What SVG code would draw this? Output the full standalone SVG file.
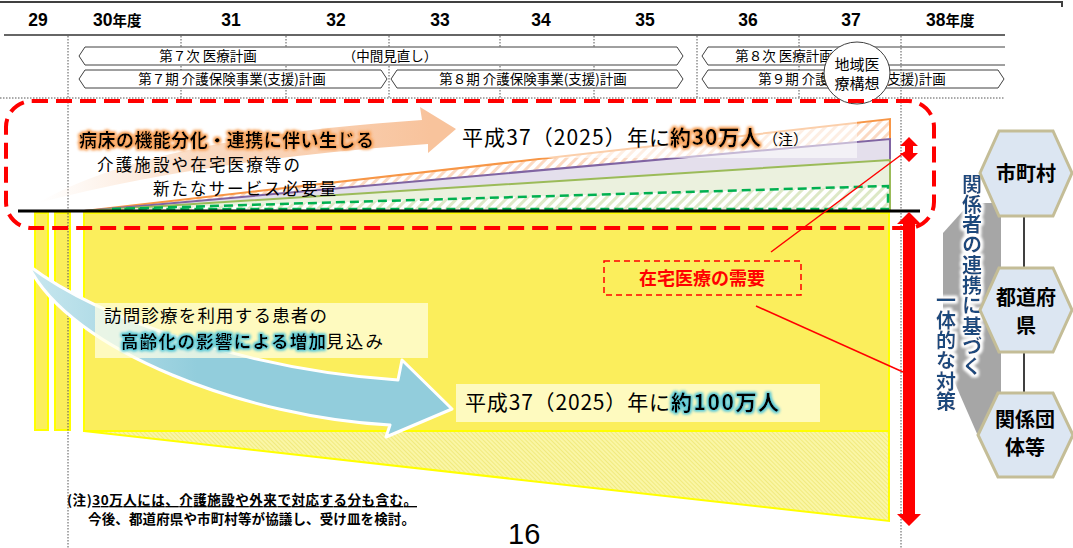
<svg xmlns="http://www.w3.org/2000/svg" width="1073" height="548" viewBox="0 0 1073 548">
<defs>
<style>
.yr{font-family:"Liberation Sans",Arial,sans-serif;font-weight:bold;font-size:17.5px;fill:#000}
.yrk{font-family:"Noto Sans CJK JP",sans-serif;font-size:14.5px;font-weight:bold}
.plan{fill:#fff;stroke:#404040;stroke-width:1}
.pt{font-family:"Noto Sans CJK JP",sans-serif;font-size:13.5px;fill:#000;text-anchor:middle}
.jp{font-family:"Noto Sans CJK JP",sans-serif;fill:#000}
.dot{stroke:#555;stroke-width:1;stroke-dasharray:1.5 1.5;fill:none}
.hex{fill:#DCE6F2;stroke:#C4BD97;stroke-width:3}
.ht{font-family:"Noto Sans CJK JP",sans-serif;font-weight:bold;font-size:20px;fill:#000;text-anchor:middle}
.vt{font-family:"Noto Sans CJK JP",sans-serif;font-weight:bold;font-size:20px;fill:#1F497D;writing-mode:vertical-rl}
.box{fill:#FFFFE6;opacity:0.72}
.ybar{fill:#FBEE5C;stroke:#FFFF00;stroke-width:2}
</style>
<pattern id="hO" width="7" height="7" patternUnits="userSpaceOnUse" patternTransform="rotate(45)">
<rect width="7" height="7" fill="#fff"/><rect width="3" height="7" fill="#FBD9C2"/>
</pattern>
<pattern id="hG" width="7" height="7" patternUnits="userSpaceOnUse" patternTransform="rotate(45)">
<rect width="7" height="7" fill="#fff"/><rect width="3" height="7" fill="#DDE8C6"/>
</pattern>
<pattern id="hY" width="3" height="3" patternUnits="userSpaceOnUse" patternTransform="rotate(-45)">
<rect width="3" height="3" fill="#FAF6A6"/><rect width="1" height="3" fill="#F1EA7E"/>
</pattern>
<linearGradient id="gOr" x1="38" y1="0" x2="430" y2="0" gradientUnits="userSpaceOnUse">
<stop offset="0" stop-color="#FCE3D0" stop-opacity="0"/>
<stop offset="0.4" stop-color="#F9D2B4" stop-opacity="0.8"/>
<stop offset="1" stop-color="#F8C39C"/>
</linearGradient>
<linearGradient id="gBl" x1="28" y1="0" x2="450" y2="0" gradientUnits="userSpaceOnUse">
<stop offset="0" stop-color="#C8E7EF"/>
<stop offset="0.4" stop-color="#92CDDC"/>
<stop offset="1" stop-color="#92CDDC"/>
</linearGradient>
<filter id="gO" x="-5%" y="-40%" width="110%" height="180%">
<feMorphology in="SourceAlpha" operator="dilate" radius="1.2" result="d"/>
<feGaussianBlur in="d" stdDeviation="1.8" result="b"/>
<feFlood flood-color="#F8A35C"/>
<feComposite in2="b" operator="in" result="g"/>
<feMerge><feMergeNode in="g"/><feMergeNode in="g"/><feMergeNode in="SourceGraphic"/></feMerge>
</filter>
<filter id="gC" x="-5%" y="-40%" width="110%" height="180%">
<feMorphology in="SourceAlpha" operator="dilate" radius="1.2" result="d"/>
<feGaussianBlur in="d" stdDeviation="1.8" result="b"/>
<feFlood flood-color="#5FCAD8"/>
<feComposite in2="b" operator="in" result="g"/>
<feMerge><feMergeNode in="g"/><feMergeNode in="g"/><feMergeNode in="SourceGraphic"/></feMerge>
</filter>
<filter id="gW" x="-40%" y="-5%" width="180%" height="110%">
<feMorphology in="SourceAlpha" operator="dilate" radius="2" result="d"/>
<feGaussianBlur in="d" stdDeviation="1.5" result="b"/>
<feFlood flood-color="#FFFFFF"/>
<feComposite in2="b" operator="in" result="g"/>
<feMerge><feMergeNode in="g"/><feMergeNode in="g"/><feMergeNode in="SourceGraphic"/></feMerge>
</filter>
</defs>

<g id="timeline">
<polyline points="0,2 1062,2 1062,7" fill="none" stroke="#404040" stroke-width="2"/>
<text class="yr" x="38" y="26" text-anchor="middle">29</text>
<text class="yr" x="93" y="26">30<tspan class="yrk">年度</tspan></text>
<text class="yr" x="231" y="26" text-anchor="middle">31</text>
<text class="yr" x="336" y="26" text-anchor="middle">32</text>
<text class="yr" x="440" y="26" text-anchor="middle">33</text>
<text class="yr" x="541" y="26" text-anchor="middle">34</text>
<text class="yr" x="645" y="26" text-anchor="middle">35</text>
<text class="yr" x="748" y="26" text-anchor="middle">36</text>
<text class="yr" x="851" y="26" text-anchor="middle">37</text>
<text class="yr" x="926" y="26">38<tspan class="yrk">年度</tspan></text>
<line x1="4" y1="35" x2="1005" y2="35" stroke="#333" stroke-width="1.5"/>
<path class="dot" d="M181,36V98 M286,36V98 M389,36V98 M500,36V98 M594,36V98 M697,36V98 M799,36V98 M0,98H1005"/>
</g>

<g id="plans">
<polygon class="plan" points="79,56 85,47 677,47 683,56 677,65 85,65"/>
<polygon class="plan" points="79,79 85,70 381,70 387,79 381,88 85,88"/>
<polygon class="plan" points="391,79 397,70 677,70 683,79 677,88 397,88"/>
<path class="plan" d="M1005,47 H708 L702,56 L708,65 H1005"/>
<polygon class="plan" points="702,79 708,70 998,70 1004,79 998,88 708,88"/>
<text class="pt" x="208" y="61">第７次 医療計画</text>
<text class="pt" x="390" y="61">（中間見直し）</text>
<text class="pt" x="232" y="84">第７期 介護保険事業(支援)計画</text>
<text class="pt" x="533" y="84">第８期 介護保険事業(支援)計画</text>
<text class="pt" x="784" y="61">第８次 医療計画</text>
<text class="pt" x="852" y="84">第９期 介護保険事業(支援)計画</text>
</g>

<g id="node-chiiki">
<ellipse cx="857" cy="73" rx="33" ry="31" fill="#fff" stroke="#404040" stroke-width="1"/>
<text class="jp" x="857" y="70" font-size="15" text-anchor="middle">地域医</text>
<text class="jp" x="857" y="89" font-size="15" text-anchor="middle">療構想</text>
</g>

<g id="demand-area">
<rect class="ybar" x="35" y="213" width="13" height="217"/>
<rect class="ybar" x="55" y="213" width="15" height="217"/>
<rect class="ybar" x="84" y="213" width="805" height="218"/>
<polygon points="84,431 889,431 889,521" fill="url(#hY)" stroke="#FFFF00" stroke-width="2"/>
</g>

<path class="dot" d="M68,36V548 M901,36V548"/>

<g id="growth">
<polygon points="84,211 890,119 890,211" fill="url(#hO)" stroke="#F79646" stroke-width="2"/>
<polygon points="84,211 890,139 890,211" fill="#E4DFEC" stroke="#8064A2" stroke-width="2"/>
<polygon points="84,211 890,160 890,211" fill="#EBF1DE" stroke="#9BBB59" stroke-width="2"/>
<polygon points="112,209 888,186 888,209" fill="url(#hG)" stroke="#00B050" stroke-width="2.5" stroke-dasharray="9 5"/>
<rect x="455" y="117" width="402" height="41" fill="#fff" opacity="0.55"/>
</g>

<g id="arrow-orange">
<path d="M38,203 Q150,138 422,120 L420,107 L456,129 L428,153 L428,144 Q200,160 38,203 Z" fill="url(#gOr)"/>
</g>

<g id="arrow-blue">
<path d="M28,265 C100,320 250,370 398,380 L402,360 L452,409 L386,437 L390,425 C250,418 70,352 28,265 Z" fill="url(#gBl)" stroke="#fff" stroke-width="3" stroke-linejoin="round"/>
</g>

<g id="label-30">
<text class="jp" x="79" y="147" font-size="18" font-weight="bold" textLength="295" filter="url(#gO)">病床の機能分化・連携に伴い生じる</text>
<text class="jp" x="97" y="171" font-size="16.5" textLength="203">介護施設や在宅医療等の</text>
<text class="jp" x="153" y="195" font-size="16.5" textLength="183">新たなサービス必要量</text>
<text class="jp" x="462" y="145" font-size="21" textLength="208">平成37（2025）年に</text>
<text class="jp" x="670" y="145" font-size="21" font-weight="bold" textLength="91" filter="url(#gO)">約30万人</text>
<text class="jp" x="763" y="145" font-size="15" textLength="45">（注）</text>
</g>

<g id="label-100">
<rect class="box" x="95" y="303" width="333" height="55"/>
<text class="jp" x="104" y="322" font-size="17.5" textLength="223">訪問診療を利用する患者の</text>
<text class="jp" x="121" y="348" font-size="17.5" font-weight="bold" textLength="205" filter="url(#gC)">高齢化の影響による増加</text>
<text class="jp" x="326" y="348" font-size="17.5" textLength="57">見込み</text>
<rect class="box" x="456" y="384" width="364" height="38"/>
<text class="jp" x="465" y="410" font-size="21" textLength="205">平成37（2025）年に</text>
<text class="jp" x="671" y="410" font-size="21" font-weight="bold" textLength="108" filter="url(#gC)">約100万人</text>
</g>

<g id="frame-new">
<rect x="6" y="101" width="928" height="127" rx="26" fill="none" stroke="#FF0000" stroke-width="4" stroke-dasharray="16 8"/>
<line x1="18" y1="211" x2="920" y2="211" stroke="#000" stroke-width="3"/>
</g>

<g id="red-arrows">
<polygon points="909,137 918,146 913,146 913,153 918,153 909,162 900,153 905,153 905,146 900,146" fill="#FF0000"/>
<polygon points="909,212 921,224 915,224 915,514 921,514 909,526 897,514 903,514 903,224 897,224" fill="#FF0000"/>
</g>

<g id="node-zaitaku">
<rect x="604" y="261" width="197" height="34" fill="none" stroke="#FF0000" stroke-width="1.5" stroke-dasharray="6 4"/>
<text class="jp" x="702" y="285" font-size="18" font-weight="bold" text-anchor="middle" style="fill:#FF0000">在宅医療の需要</text>
</g>

<g id="connectors">
<line x1="771" y1="252" x2="905" y2="152" stroke="#FF0000" stroke-width="1.5"/>
<line x1="756" y1="306" x2="903" y2="372" stroke="#FF0000" stroke-width="1.5"/>
<line x1="1024" y1="217" x2="1024" y2="267" stroke="#000" stroke-width="1.5"/>
<line x1="1024" y1="353" x2="1024" y2="392" stroke="#000" stroke-width="1.5"/>
</g>

<g id="collab">
<polygon points="943,233 970,203 1001,203 1001,440 978,436 943,356" fill="#A6A6A6"/>
<text class="vt" x="972" y="174" letter-spacing="0.3" filter="url(#gW)">関係者の連携に基づく</text>
<text class="vt" x="946" y="290" letter-spacing="0.3" filter="url(#gW)">一体的な対策</text>
</g>

<g id="node-shichoson">
<polygon class="hex" points="980,173 999,131 1053,131 1072,173 1053,216 999,216"/>
<text class="ht" x="1026" y="181">市町村</text>
</g>
<g id="node-todofuken">
<polygon class="hex" points="980,310 999,268 1053,268 1072,310 1053,352 999,352"/>
<text class="ht" x="1026" y="305">都道府</text>
<text class="ht" x="1026" y="333">県</text>
</g>
<g id="node-dantai">
<polygon class="hex" points="978,435 998,393 1053,393 1073,435 1053,477 998,477"/>
<text class="ht" x="1025" y="427">関係団</text>
<text class="ht" x="1025" y="455">体等</text>
</g>

<g id="footnote">
<text class="jp" x="67" y="505" font-size="13.5" font-weight="bold" textLength="350">(注)<tspan style="text-decoration:underline">30万人には、介護施設や外来で対応する分も含む。</tspan></text>
<text class="jp" x="88" y="524" font-size="13.5" font-weight="bold" textLength="327">今後、都道府県や市町村等が協議し、受け皿を検討。</text>
<text x="508" y="544" font-family="Liberation Sans, Arial, sans-serif" font-size="29" fill="#000">16</text>
</g>
</svg>
